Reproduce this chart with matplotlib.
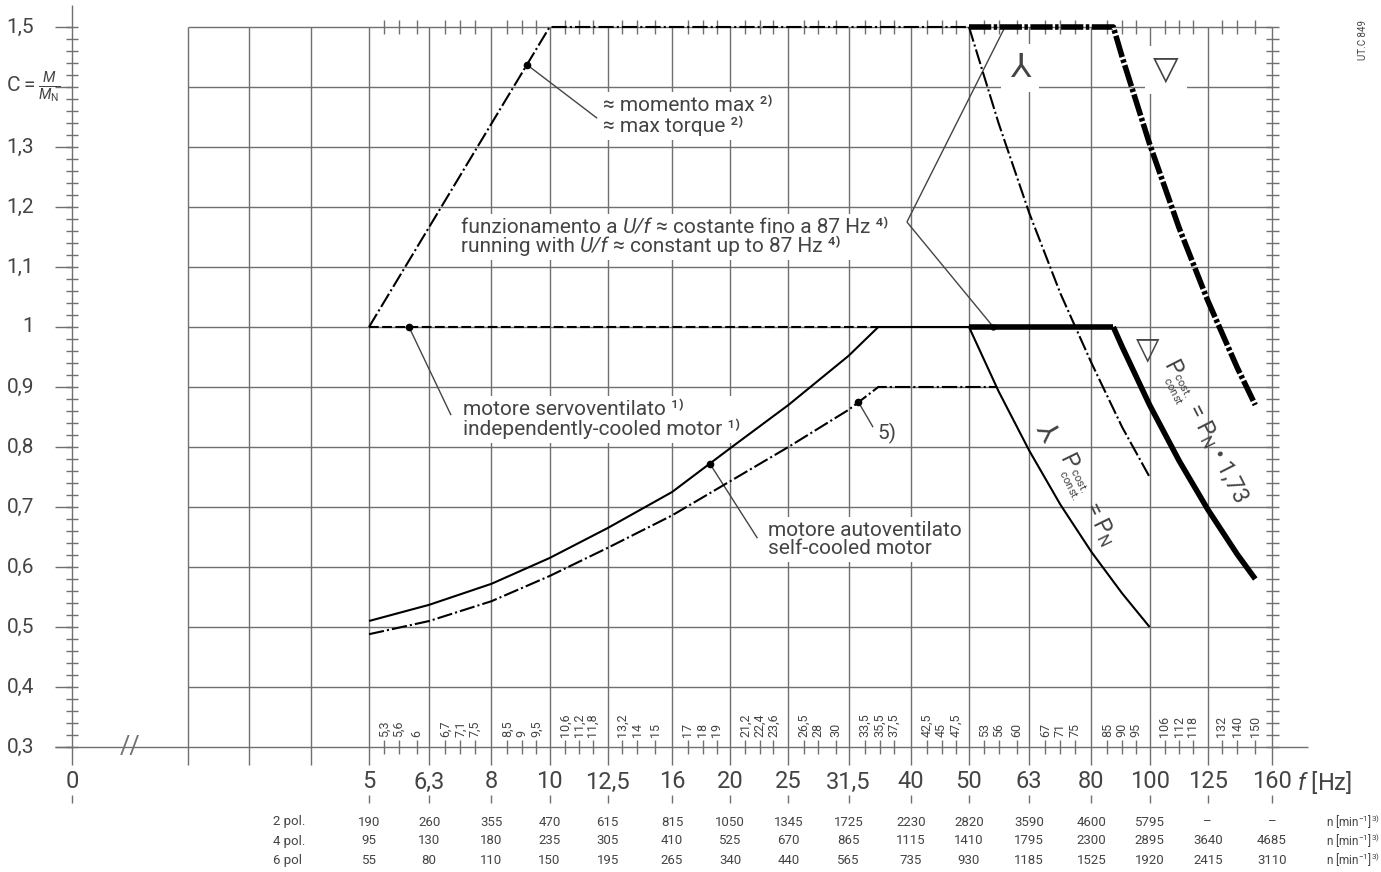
"""
Curva di coppia motore con inverter: C = M/MN in funzione di f [Hz].
Ricostruzione del diagramma UT.C 849.
"""

import matplotlib
matplotlib.use("Agg")
import matplotlib.pyplot as plt
from matplotlib.markers import TICKLEFT
from matplotlib.patches import Rectangle
from matplotlib.transforms import Bbox, IdentityTransform

# --- Asse frequenze (serie R10 / R40) ---
FREQ_R10 = [5, 6.3, 8, 10, 12.5, 16, 20, 25, 31.5, 40, 50, 63, 80, 100, 125, 160]
FREQ_R10_LABELS = ["5", "6,3", "8", "10", "12,5", "16", "20", "25", "31,5",
                   "40", "50", "63", "80", "100", "125", "160"]
FREQ_LEFT_GRID = [2.5, 3.15, 4]
FREQ_R40 = [5.3, 5.6, 6, 6.7, 7.1, 7.5, 8.5, 9, 9.5, 10.6, 11.2, 11.8, 13.2, 14, 15,
            17, 18, 19, 21.2, 22.4, 23.6, 26.5, 28, 30, 33.5, 35.5, 37.5, 42.5, 45,
            47.5, 53, 56, 60, 67, 71, 75, 85, 90, 95, 106, 112, 118, 132, 140, 150]
FREQ_R40_LABELS = ["5,3", "5,6", "6", "6,7", "7,1", "7,5", "8,5", "9", "9,5",
                   "10,6", "11,2", "11,8", "13,2", "14", "15", "17", "18", "19",
                   "21,2", "22,4", "23,6", "26,5", "28", "30", "33,5", "35,5", "37,5",
                   "42,5", "45", "47,5", "53", "56", "60", "67", "71", "75",
                   "85", "90", "95", "106", "112", "118", "132", "140", "150"]
AXIS0_F = 1.6          # posizione dello "0" (asse interrotto)

# --- Asse C ---
Y_TICKS = [0.3, 0.4, 0.5, 0.6, 0.7, 0.8, 0.9, 1.0, 1.1, 1.2, 1.3, 1.4, 1.5]
Y_TICK_LABELS = ["0,3", "0,4", "0,5", "0,6", "0,7", "0,8", "0,9", "1",
                 "1,1", "1,2", "1,3", "", "1,5"]
Y_MINOR = [round(0.3 + 0.02 * i, 2) for i in range(61)]

# --- Tabella velocità n [min^-1] ---
RPM_2POL = ["190", "260", "355", "470", "615", "815", "1050", "1345", "1725",
            "2230", "2820", "3590", "4600", "5795", "–", "–"]
RPM_4POL = ["95", "130", "180", "235", "305", "410", "525", "670", "865",
            "1115", "1410", "1795", "2300", "2895", "3640", "4685"]
RPM_6POL = ["55", "80", "110", "150", "195", "265", "340", "440", "565",
            "735", "930", "1185", "1525", "1920", "2415", "3110"]

# --- Curve ---
MAXT_F = [5, 10, 50]                      # momento max (U/f cost.)
MAXT_C = [1.0, 1.5, 1.5]
SERVO_F = [5, 35.3]                       # motore servoventilato
SERVO_C = [1.0, 1.0]
SELF_F = [5, 6.3, 8, 10, 12.5, 16, 20, 25, 31.5, 35.3, 50]   # autoventilato
SELF_C = [0.51, 0.537, 0.572, 0.615, 0.665, 0.725, 0.798, 0.87, 0.952, 1.0, 1.0]
C5_F = [5, 6.3, 8, 10, 12.5, 16, 20, 25, 31.5, 35.3, 55.6]   # nota 5)
C5_C = [0.488, 0.51, 0.543, 0.585, 0.632, 0.686, 0.743, 0.80, 0.862, 0.90, 0.90]
STAR_F = [50, 56, 63, 71, 80, 90, 100]                       # collegamento Y
STAR_PCONST_C = [1.0, 0.893, 0.794, 0.704, 0.625, 0.556, 0.5]
STAR_MAXT_C = [1.5, 1.34, 1.19, 1.056, 0.94, 0.833, 0.75]
DELTA_F = [50, 87, 90, 100, 112, 125, 140, 150]              # collegamento Δ
DELTA_PCONST_C = [1.0, 1.0, 0.967, 0.87, 0.777, 0.696, 0.621, 0.58]
DELTA_MAXT_C = [1.5, 1.5, 1.45, 1.305, 1.165, 1.044, 0.932, 0.87]

# punti marcati sulle curve e fine delle linee di richiamo
LEADERS = [((9.17, 1.437), (12.0, 1.348)),
           ((5.83, 1.0), (6.85, 0.853)),
           ((18.5, 0.772), (22.2, 0.648)),
           ((32.7, 0.875), (34.6, 0.833))]
UF_VERTEX = (39.4, 1.175)
UF_TARGETS = [(57.4, 1.5), (54.9, 1.0)]

GRID = "#707070"
TEXT = "#444444"
FONT = ["Roboto", "DejaVu Sans"]

plt.rcParams.update({
    "font.family": FONT,
    "mathtext.fontset": "custom",
    "mathtext.rm": "Roboto",
    "mathtext.it": "Roboto:italic",
    "mathtext.bf": "Roboto:bold",
    "lines.scale_dashes": False,
    "lines.solid_capstyle": "butt",
})

DASHDOT = (0, (11, 2.2, 1.5, 2.2))
DASHDOT_THICK = (0, (16, 1.8, 2.5, 1.8))
DASHED = (0, (7, 2.5))


def fpx(px):
    """Colonna pixel -> frequenza (600 px per decade, 5 Hz a x=369)."""
    return 5 * 10 ** ((px - 369) / 600)


def cpx(py):
    """Riga pixel -> C (600 px per unità, 1,5 a y=27)."""
    return 1.5 - (py - 27) / 600


def pt(px):
    return px * 0.72


def text_lines(ax, px, pys, lines, size=15):
    """Testo su più righe, una riga per volta."""
    return [ax.text(fpx(px), cpx(py), s, ha="left", va="center", fontsize=size,
                    color=TEXT, zorder=3) for py, s in zip(pys, lines)]


def rich_line(ax, px, py, segments, size=15):
    """Riga composta da pezzi diritti/corsivi, accostati uno dopo l'altro."""
    texts = []
    for s, style in segments:
        if not texts:
            t = ax.text(fpx(px), cpx(py), s, ha="left", va="center", fontsize=size,
                        style=style, color=TEXT, zorder=3)
        else:
            t = ax.annotate(s, xy=(1, 0), xycoords=texts[-1], ha="left",
                            va="bottom", fontsize=size, style=style, color=TEXT,
                            zorder=3)
        texts.append(t)
    return texts


def white_background(fig, ax, groups, pad=4):
    """Fondo bianco sotto ogni blocco di testo (interrompe la griglia)."""
    fig.canvas.draw()
    renderer = fig.canvas.get_renderer()
    for group in groups:
        bb = Bbox.union([t.get_window_extent(renderer) for t in group]).padded(pad)
        ax.add_patch(Rectangle((bb.x0, bb.y0), bb.width, bb.height,
                               transform=IdentityTransform(), facecolor="white",
                               edgecolor="none", zorder=2.5))


fig = plt.figure(figsize=(13.81, 8.72), dpi=100)
ax = fig.add_axes([0, 0, 1, 1])
ax.set_xscale("log")
ax.set_xlim(fpx(0), fpx(1381))
ax.set_ylim(cpx(872), cpx(0))
ax.axis("off")

# --- Griglia ---
ax.vlines(FREQ_LEFT_GRID + FREQ_R10, 0.27, 1.5, color=GRID, lw=1.0, zorder=1)
ax.hlines(Y_TICKS[1:], FREQ_LEFT_GRID[0], FREQ_R10[-1], color=GRID, lw=1.0, zorder=1)
ax.hlines(0.3, fpx(55), fpx(1308), color=GRID, lw=1.0, zorder=1)
ax.vlines(AXIS0_F, 0.27, cpx(5), color=GRID, lw=1.0, zorder=1)

# tacche asse sinistro
ax.plot([AXIS0_F] * len(Y_MINOR), Y_MINOR, ls="none", marker="_", ms=pt(12),
        mew=1.0, color=GRID, zorder=1)
ax.plot([AXIS0_F] * len(Y_TICKS), Y_TICKS, ls="none", marker=TICKLEFT, ms=pt(17),
        mew=1.0, color=GRID, zorder=1)
# tacche asse destro (160 Hz)
ax.plot([FREQ_R10[-1]] * len(Y_MINOR), Y_MINOR, ls="none", marker="_", ms=pt(13),
        mew=1.0, color=GRID, zorder=1)
# tacche R40 sopra e sotto
for yv in (0.3, 1.5):
    ax.plot(FREQ_R40, [yv] * len(FREQ_R40), ls="none", marker="|", ms=pt(14),
            mew=1.0, color=GRID, zorder=2)

# etichette asse C
for yv, lab in zip(Y_TICKS, Y_TICK_LABELS):
    ax.text(fpx(34), yv, lab, ha="right", va="center", fontsize=15, color=TEXT)
ax.text(fpx(6), 1.4, r"C$=\frac{\mathit{M}}{\mathit{M}_{\mathrm{N}}}$", ha="left",
        va="center", fontsize=15, color=TEXT)

# etichette asse f
for f, lab in zip(FREQ_R10, FREQ_R10_LABELS):
    ax.text(f, cpx(782), lab, ha="center", va="center", fontsize=17, color=TEXT)
ax.text(AXIS0_F, cpx(782), "0", ha="center", va="center", fontsize=17, color=TEXT)
ax.text(fpx(1297), cpx(782), r"$\mathit{f}$ [Hz]", ha="left", va="center",
        fontsize=17, color=TEXT)
ax.vlines(FREQ_R10 + [AXIS0_F], cpx(803), cpx(795), color=GRID, lw=1.0)
ax.text(fpx(130), 0.3, "//", ha="center", va="center", fontsize=18, color=GRID)

for f, lab in zip(FREQ_R40, FREQ_R40_LABELS):
    ax.text(f, cpx(737), lab, rotation=90, ha="center", va="bottom",
            fontsize=9, color=TEXT)

# tabella velocità
for name, vals, py in (("2 pol.", RPM_2POL, 822), ("4 pol.", RPM_4POL, 841),
                       ("6 pol", RPM_6POL, 860)):
    ax.text(fpx(273), cpx(py), name, ha="left", va="center", fontsize=9.5, color=TEXT)
    for f, v in zip(FREQ_R10, vals):
        ax.text(f, cpx(py), v, ha="center", va="center", fontsize=9.5, color=TEXT)
    ax.text(fpx(1326), cpx(py), r"n [min$^{-1}$]$^{3)}$", ha="left", va="center",
            fontsize=8.5, color=TEXT)

ax.text(fpx(1363), cpx(40), "UT.C 849", rotation=90, ha="center", va="center",
        fontsize=7, color=TEXT)

# --- Curve ---
ax.plot(MAXT_F, MAXT_C, color="k", lw=1.5, ls=DASHDOT, zorder=5)
ax.plot(SERVO_F, SERVO_C, color="k", lw=1.5, ls=DASHED, zorder=5)
ax.plot(SELF_F, SELF_C, color="k", lw=1.5, zorder=5)
ax.plot(C5_F, C5_C, color="k", lw=1.5, ls=DASHDOT, zorder=5)
ax.plot(STAR_F, STAR_PCONST_C, color="k", lw=1.5, zorder=5)
ax.plot(STAR_F, STAR_MAXT_C, color="k", lw=1.5, ls=DASHDOT, zorder=5)
ax.plot(DELTA_F[1:], DELTA_PCONST_C[1:], color="k", lw=4.0, zorder=5)
ax.plot(DELTA_F[:2], DELTA_PCONST_C[:2], color="k", lw=4.0, zorder=5)
ax.plot(DELTA_F, DELTA_MAXT_C, color="k", lw=4.0, ls=DASHDOT_THICK, zorder=5)

# linee di richiamo
for (p, q) in LEADERS:
    ax.plot([p[0], q[0]], [p[1], q[1]], color=TEXT, lw=1.0, zorder=4)
    ax.plot(*p, "o", ms=4.5, color="k", zorder=6)
for q in UF_TARGETS:
    ax.plot([UF_VERTEX[0], q[0]], [UF_VERTEX[1], q[1]], color=TEXT, lw=1.0, zorder=4)
ax.plot(*UF_TARGETS[1], "o", ms=3.5, color="k", zorder=6)

# --- Testi ---
uf_block = (rich_line(ax, 461, 228, [("funzionamento a ", "normal"), ("U/f", "italic"),
                                     (" ≈ costante fino a 87 Hz ⁴⁾", "normal")])
            + rich_line(ax, 461, 247, [("running with ", "normal"), ("U/f", "italic"),
                                       (" ≈ constant up to 87 Hz ⁴⁾", "normal")]))
blocks = [
    text_lines(ax, 603, [106, 126], ["≈ momento max ²⁾", "≈ max torque ²⁾"]),
    uf_block,
    text_lines(ax, 463, [410, 429], ["motore servoventilato ¹⁾",
                                     "independently-cooled motor ¹⁾"]),
    text_lines(ax, 768, [531, 549], ["motore autoventilato", "self-cooled motor"]),
]
ax.text(fpx(877), cpx(433), "5)", ha="left", va="center", fontsize=15,
        color=TEXT, zorder=3)

sym_box = dict(facecolor="white", edgecolor="none", pad=6)
ax.text(fpx(1020), cpx(68), "⅄", ha="center", va="center", fontsize=24,
        color=TEXT, bbox=sym_box, zorder=3)
ax.text(fpx(1166), cpx(70), "▽", ha="center", va="center", fontsize=24,
        color=TEXT, bbox=sym_box, zorder=3)
ax.text(fpx(1148), cpx(350), "▽", ha="center", va="center", fontsize=22,
        color=TEXT, zorder=3)
ax.text(fpx(1046), cpx(432), "⅄", rotation=-60, ha="center", va="center",
        fontsize=20, color=TEXT, zorder=3)

PSUB = r"$\mathrm{P}_{\genfrac{}{}{0}{}{\mathrm{cost.}}{\mathrm{const}}}$"
ax.text(fpx(1203), cpx(432), PSUB + r" = P$_{\mathrm{N}}$ • 1,73",
        rotation=-63, rotation_mode="anchor", ha="center", va="center",
        fontsize=16.5, color=TEXT, zorder=3)
PSUB_Y = r"$\mathrm{P}_{\genfrac{}{}{0}{}{\mathrm{cost.}}{\mathrm{const.}}}$"
ax.text(fpx(1086), cpx(500), PSUB_Y + r" = P$_{\mathrm{N}}$",
        rotation=-64, rotation_mode="anchor", ha="center", va="center",
        fontsize=16.5, color=TEXT, zorder=3)

white_background(fig, ax, blocks)

fig.savefig("out.png", dpi=100)
